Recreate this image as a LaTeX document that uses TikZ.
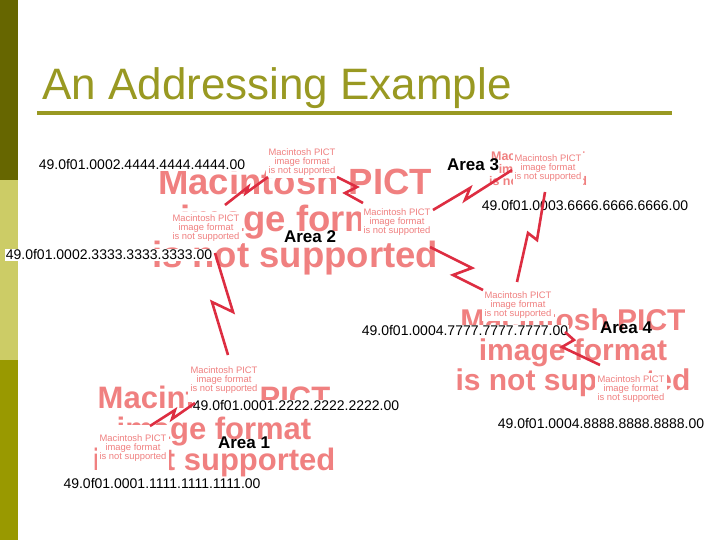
\documentclass[tikz,border=0pt]{standalone}
\usepackage{fontspec}
\setmainfont{Liberation Sans}
\definecolor{oliveD}{RGB}{102,102,0}
\definecolor{oliveL}{RGB}{204,204,102}
\definecolor{oliveM}{RGB}{153,153,0}
\definecolor{titleolive}{RGB}{153,153,34}
\definecolor{pictpink}{RGB}{240,128,128}
\definecolor{boltred}{RGB}{221,45,65}
\begin{document}
\begin{tikzpicture}[x=1pt,y=-1pt,
  pict/.style={fill=white, text=pictpink, align=center, inner sep=0pt,
    minimum width=72pt, minimum height=32pt, font=\fontsize{9.4}{9}\selectfont},
  bigpict/.style={text=pictpink, align=center, inner sep=0pt,
    font=\bfseries\fontsize{#1}{#1}\selectfont},
  addr/.style={fill=white, inner sep=1pt, font=\fontsize{14}{14}\selectfont},
  area/.style={inner sep=0pt, font=\bfseries\fontsize{17}{17}\selectfont},
  bolt/.style={draw=boltred, line width=2.6pt, line join=miter}]
\useasboundingbox (0,0) rectangle (720,540);
\fill[white] (0,0) rectangle (720,540);

% Side bar and title
\fill[oliveD] (0,0) rectangle (18,180);
\fill[oliveL] (0,180) rectangle (18,360);
\fill[oliveM] (0,360) rectangle (18,540);
\node[anchor=base west, inner sep=0pt, text=titleolive,
  font=\fontsize{44}{44}\selectfont] (title) at (42,100) {An Addressing Example};
\draw[titleolive, line width=3.5pt] (37,113) -- (672,113);

% The pictures that could not be shown
\def\pict{Macintosh PICT\\image format\\is not supported}
\node[bigpict=36.5] (bigA) at (295,222) {\pict};
\node[bigpict=30] (bigB) at (573,353) {\pict};
\node[bigpict=31] (bigC) at (214,431) {\pict};
\node[bigpict=12.5] (midA) at (538,170) {\pict};

% Routers
\node[pict] (r1) at (302,162) {\pict};
\node[pict] (r2) at (206,228) {\pict};
\node[pict] (r3) at (397,222) {\pict};
\node[pict, minimum width=70pt, minimum height=40pt] (r4) at (548,168) {\pict};
\node[pict] (r5) at (518,305) {\pict};
\node[pict] (r6) at (631,389) {\pict};
\node[pict, minimum height=44pt] (r7) at (224,380) {\pict};
\node[pict, minimum height=46pt] (r8) at (133,448) {\pict};

% Addresses
\node[addr] (a1) at (142,165) {49.0f01.0002.4444.4444.4444.00};
\node[addr] (a2) at (585,206) {49.0f01.0003.6666.6666.6666.00};
\node[addr] (a3) at (109,255) {49.0f01.0002.3333.3333.3333.00};
\node[addr] (a4) at (465,331) {49.0f01.0004.7777.7777.7777.00};
\node[addr] (a5) at (296,406) {49.0f01.0001.2222.2222.2222.00};
\node[addr] (a6) at (601,424) {49.0f01.0004.8888.8888.8888.00};
\node[addr] (a7) at (162,484) {49.0f01.0001.1111.1111.1111.00};

% Areas
\node[area] (area3) at (473,165) {Area 3};
\node[area] (area2) at (310,237) {Area 2};
\node[area] (area4) at (626,328) {Area 4};
\node[area] (area1) at (244,443) {Area 1};

% Links between the routers
\coordinate (l1a) at (225,205); \coordinate (l1b) at (268,177);
\draw[bolt] (l1a) -- (248,187) -- (246,193) -- (l1b);
\coordinate (l2a) at (337,177); \coordinate (l2b) at (363,203);
\draw[bolt] (l2a) -- (357,187) -- (345,193) -- (l2b);
\coordinate (l3a) at (433,210); \coordinate (l3b) at (512,170);
\draw[bolt] (l3a) -- (470,188) -- (465,200) -- (l3b);
\coordinate (l4a) at (430,247); \coordinate (l4b) at (483,290);
\draw[bolt] (l4a) -- (472,268) -- (453,275) -- (l4b);
\coordinate (l5a) at (545,192); \coordinate (l5b) at (517,282);
\draw[bolt] (l5a) -- (537,240) -- (528,233) -- (l5b);
\coordinate (l6a) at (215,253); \coordinate (l6b) at (228,355);
\draw[bolt] (l6a) -- (233,312) -- (212,302) -- (l6b);
\coordinate (l7a) at (565,332); \coordinate (l7b) at (600,365);
\draw[bolt] (l7a) -- (574,340) -- (562,347) -- (l7b);
\coordinate (l8a) at (150,426); \coordinate (l8b) at (195,403);
\draw[bolt] (l8a) -- (175,410) -- (172,419) -- (l8b);
\end{tikzpicture}
\end{document}
